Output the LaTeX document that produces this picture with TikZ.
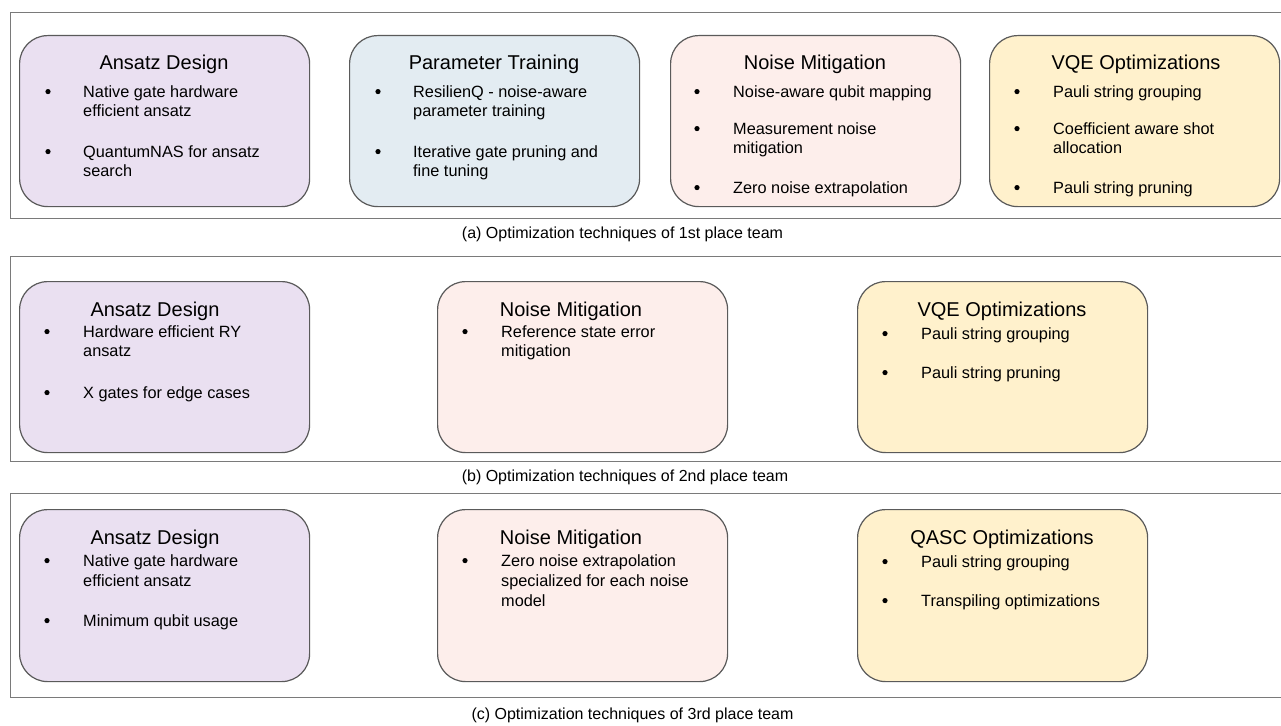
\documentclass[tikz,border=0pt]{standalone}
\usepackage{fontspec}
\setmainfont{Liberation Sans}
\definecolor{cpur}{HTML}{EAE0F1}
\definecolor{cblu}{HTML}{E3ECF2}
\definecolor{cpnk}{HTML}{FDEEEB}
\definecolor{cyel}{HTML}{FFF1CC}
\definecolor{cbrd}{HTML}{5A5A5A}
\definecolor{cpan}{HTML}{7A7A7A}
\tikzset{
  card/.style={draw=cbrd, line width=1.2pt, rounded corners=28pt, minimum width=290pt, minimum height=171pt, anchor=north west, inner sep=0pt},
  ttl/.style={font=\fontsize{20}{24}\selectfont, anchor=base, inner sep=0pt},
  btx/.style={font=\fontsize{16.3}{19}\selectfont, anchor=base west, inner sep=0pt},
  capt/.style={font=\fontsize{16}{19}\selectfont, anchor=base, inner sep=0pt},
  panel/.style={draw=cpan, line width=1pt},
  bdot/.style={fill=black}
}
\newcommand{\bdt}[2]{\fill[bdot] (#1,#2-5.4) circle (2.6);}
\begin{document}
\begin{tikzpicture}[x=1pt,y=-1pt]
\useasboundingbox[fill=white] (0,0) rectangle (1281,725);
% ---------- panel (a)
\draw[panel] (1281,13) -| (10,218) -- (1281,218);
\node[card, fill=cpur] (a1) at (19,35) {};
\node[card, fill=cblu] (a2) at (349,35) {};
\node[card, fill=cpnk] (a3) at (670,35) {};
\node[card, fill=cyel] (a4) at (989,35) {};
\node[ttl] (a1t) at (164,69.5) {Ansatz Design};
\node[ttl] (a2t) at (494,69.5) {Parameter Training};
\node[ttl] (a3t) at (815,69.5) {Noise Mitigation};
\node[ttl] (a4t) at (1136,69.5) {VQE Optimizations};
\bdt{48}{97}\bdt{48}{157}
\node[btx] (a1a) at (83,97) {Native gate hardware};
\node[btx] (a1b) at (83,116) {efficient ansatz};
\node[btx] (a1c) at (83,157) {QuantumNAS for ansatz};
\node[btx] (a1d) at (83,176) {search};
\bdt{378}{97}\bdt{378}{157}
\node[btx] (a2a) at (413,97) {ResilienQ - noise-aware};
\node[btx] (a2b) at (413,116) {parameter training};
\node[btx] (a2c) at (413,157) {Iterative gate pruning and};
\node[btx] (a2d) at (413,176) {fine tuning};
\bdt{697}{97}\bdt{697}{134}\bdt{697}{193}
\node[btx] (a3a) at (733,97) {Noise-aware qubit mapping};
\node[btx] (a3b) at (733,134) {Measurement noise};
\node[btx] (a3c) at (733,153) {mitigation};
\node[btx] (a3d) at (733,193) {Zero noise extrapolation};
\bdt{1017}{97}\bdt{1017}{134}\bdt{1017}{193}
\node[btx] (a4a) at (1053,97) {Pauli string grouping};
\node[btx] (a4b) at (1053,134) {Coefficient aware shot};
\node[btx] (a4c) at (1053,153) {allocation};
\node[btx] (a4d) at (1053,193) {Pauli string pruning};
\node[capt] (capa) at (622.5,238) {(a) Optimization techniques of 1st place team};
% ---------- panel (b)
\draw[panel] (1281,256) -| (10,461) -- (1281,461);
\node[card, fill=cpur] (b1) at (19,281) {};
\node[card, fill=cpnk] (b2) at (437,281) {};
\node[card, fill=cyel] (b3) at (857,281) {};
\node[ttl] (b1t) at (155,316) {Ansatz Design};
\node[ttl] (b2t) at (571,316) {Noise Mitigation};
\node[ttl] (b3t) at (1002,316) {VQE Optimizations};
\bdt{47}{337}\bdt{47}{398}
\node[btx] (b1a) at (83,337) {Hardware efficient RY};
\node[btx] (b1b) at (83,356) {ansatz};
\node[btx] (b1c) at (83,398) {X gates for edge cases};
\bdt{465}{337}
\node[btx] (b2a) at (501,337) {Reference state error};
\node[btx] (b2b) at (501,356) {mitigation};
\bdt{885}{339}\bdt{885}{378}
\node[btx] (b3a) at (921,339) {Pauli string grouping};
\node[btx] (b3b) at (921,378) {Pauli string pruning};
\node[capt] (capb) at (625,481) {(b) Optimization techniques of 2nd place team};
% ---------- panel (c)
\draw[panel] (1281,493) -| (10,697) -- (1281,697);
\node[card, fill=cpur, minimum height=172pt] (c1) at (19,509) {};
\node[card, fill=cpnk, minimum height=172pt] (c2) at (437,509) {};
\node[card, fill=cyel, minimum height=172pt] (c3) at (857,509) {};
\node[ttl] (c1t) at (155,544) {Ansatz Design};
\node[ttl] (c2t) at (571,544) {Noise Mitigation};
\node[ttl] (c3t) at (1002,544) {QASC Optimizations};
\bdt{47}{566}\bdt{47}{626}
\node[btx] (c1a) at (83,566) {Native gate hardware};
\node[btx] (c1b) at (83,586) {efficient ansatz};
\node[btx] (c1c) at (83,626) {Minimum qubit usage};
\bdt{465}{566}
\node[btx] (c2a) at (501,566) {Zero noise extrapolation};
\node[btx] (c2b) at (501,586) {specialized for each noise};
\node[btx] (c2c) at (501,606) {model};
\bdt{885}{567}\bdt{885}{606}
\node[btx] (c3a) at (921,567) {Pauli string grouping};
\node[btx] (c3b) at (921,606) {Transpiling optimizations};
\node[capt] (capc) at (632.5,719) {(c) Optimization techniques of 3rd place team};
\end{tikzpicture}
\end{document}
